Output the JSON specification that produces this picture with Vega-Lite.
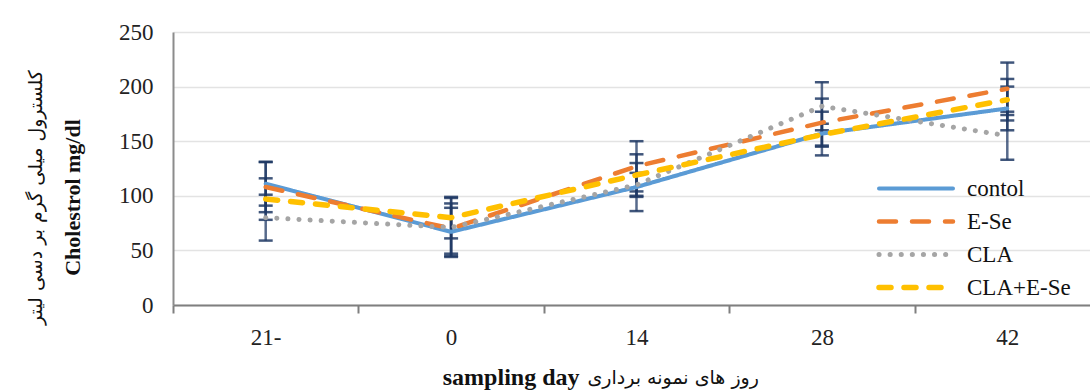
{
  "$schema": "https://vega.github.io/schema/vega-lite/v6.json",
  "autosize": {"type": "none"},
  "padding": {"left": 173, "top": 32, "right": 0, "bottom": 86},
  "width": 927,
  "height": 273,
  "background": "white",
  "config": {
    "font": "Liberation Serif",
    "view": {"stroke": null},
    "axis": {"labelFont": "Liberation Serif", "titleFont": "Liberation Serif", "labelColor": "#222", "titleColor": "#111"}
  },
  "data": {
    "values": [
      {"day": "21-", "series": "contol", "value": 111, "err": 20},
      {"day": "0", "series": "contol", "value": 67, "err": 22},
      {"day": "14", "series": "contol", "value": 108, "err": 22},
      {"day": "28", "series": "contol", "value": 157, "err": 20},
      {"day": "42", "series": "contol", "value": 180, "err": 20},
      {"day": "21-", "series": "E-Se", "value": 108, "err": 23},
      {"day": "0", "series": "E-Se", "value": 70, "err": 23},
      {"day": "14", "series": "E-Se", "value": 127, "err": 23},
      {"day": "28", "series": "E-Se", "value": 167, "err": 22},
      {"day": "42", "series": "E-Se", "value": 198, "err": 24},
      {"day": "21-", "series": "CLA", "value": 80, "err": 21},
      {"day": "0", "series": "CLA", "value": 71, "err": 27},
      {"day": "14", "series": "CLA", "value": 110, "err": 11},
      {"day": "28", "series": "CLA", "value": 182, "err": 22},
      {"day": "42", "series": "CLA", "value": 155, "err": 22},
      {"day": "21-", "series": "CLA+E-Se", "value": 97, "err": 19},
      {"day": "0", "series": "CLA+E-Se", "value": 80, "err": 19},
      {"day": "14", "series": "CLA+E-Se", "value": 119, "err": 19},
      {"day": "28", "series": "CLA+E-Se", "value": 156, "err": 10},
      {"day": "42", "series": "CLA+E-Se", "value": 188, "err": 19}
    ]
  },
  "resolve": {"axis": {"x": "independent", "y": "independent"}},
  "layer": [
    {
      "mark": {"type": "errorbar", "ticks": {"size": 14, "thickness": 2.5, "color": "#1F3864", "opacity": 0.85}, "color": "#1F3864", "thickness": 2.5, "opacity": 0.75},
      "encoding": {
        "x": {"field": "day", "type": "ordinal", "sort": ["21-", "0", "14", "28", "42"], "bandPosition": 0.5,
          "scale": {"type": "band", "paddingInner": 0, "paddingOuter": 0},
          "axis": {"orient": "bottom", "labels": false, "ticks": false, "domain": false, "grid": false,
            "title": "روز های نمونه برداری", "titleFont": "DejaVu Sans", "titleFontSize": 19, "titleFontWeight": "normal",
            "titleAlign": "left", "titleAnchor": null, "titleX": 414, "titleY": 72, "titleBaseline": "middle", "titleColor": "#111"}},
        "y": {"field": "value", "type": "quantitative", "scale": {"domain": [0, 250]},
          "axis": {"orient": "left", "labels": false, "ticks": false, "domain": false, "grid": false,
            "title": "کلسترول میلی گرم بر دسی لیتر", "titleFont": "DejaVu Sans", "titleFontSize": 19, "titleFontWeight": "normal",
            "titleAngle": -90, "titleAlign": "center", "titleAnchor": null, "titleX": -138, "titleY": 165, "titleBaseline": "middle", "titleColor": "#111"}},
        "yError": {"field": "err"}
      }
    },
    {
      "mark": {"type": "line", "strokeCap": "round", "strokeJoin": "round"},
      "encoding": {
        "x": {"field": "day", "type": "ordinal", "sort": ["21-", "0", "14", "28", "42"], "bandPosition": 0.5,
          "scale": {"type": "band", "paddingInner": 0, "paddingOuter": 0},
          "axis": {"orient": "bottom", "labelAngle": 0, "labelFontSize": 23, "labelPadding": 13, "tickBand": "extent",
            "tickSize": 8, "tickWidth": 2, "tickColor": "#7f7f7f", "domainColor": "#7f7f7f", "domainWidth": 2, "grid": false,
            "title": "sampling day", "titleFontSize": 24, "titleFontWeight": "bold",
            "titleAlign": "right", "titleAnchor": null, "titleX": 406, "titleY": 72, "titleBaseline": "middle"}},
        "y": {"field": "value", "type": "quantitative", "scale": {"domain": [0, 250]},
          "axis": {"orient": "left", "values": [0, 50, 100, 150, 200, 250], "labelFontSize": 23, "labelPadding": 20,
            "ticks": false, "domainColor": "#8c8c8c", "domainWidth": 2, "grid": true, "gridColor": "#e3e3e3", "gridWidth": 1.5,
            "title": "Cholestrol mg/dl", "titleFontSize": 22, "titleFontWeight": "bold",
            "titleAngle": -90, "titleAlign": "center", "titleAnchor": null, "titleX": -101, "titleY": 165, "titleBaseline": "middle"}},
        "color": {"field": "series", "type": "nominal",
          "scale": {"domain": ["contol", "E-Se", "CLA", "CLA+E-Se"], "range": ["#5B9BD5", "#ED7D31", "#A5A5A5", "#FFC000"]},
          "legend": {"title": null, "orient": "none", "legendX": 703, "legendY": 140, "padding": 0, "rowPadding": 0,
            "clipHeight": 33, "symbolType": "stroke", "symbolSize": 5476, "symbolStrokeWidth": 5, "labelFontSize": 23,
            "labelOffset": 11, "labelFont": "Liberation Serif", "labelColor": "#111",
            "encode": {"symbols": {"update": {"strokeCap": {"value": "round"}}}}}},
        "strokeDash": {"field": "series", "type": "nominal",
          "scale": {"domain": ["contol", "E-Se", "CLA", "CLA+E-Se"], "range": [[1, 0], [17, 16], [0.1, 11], [12, 13]]},
          "legend": {"title": null, "orient": "none", "legendX": 703, "legendY": 140, "padding": 0, "rowPadding": 0,
            "clipHeight": 33, "symbolType": "stroke", "symbolSize": 5476, "symbolStrokeWidth": 5, "labelFontSize": 23,
            "labelOffset": 11, "labelFont": "Liberation Serif", "labelColor": "#111",
            "encode": {"symbols": {"update": {"strokeCap": {"value": "round"}}}}}},
        "strokeWidth": {"field": "series", "type": "nominal",
          "scale": {"domain": ["contol", "E-Se", "CLA", "CLA+E-Se"], "range": [4, 5.5, 4, 5]},
          "legend": null}
      }
    }
  ]
}
